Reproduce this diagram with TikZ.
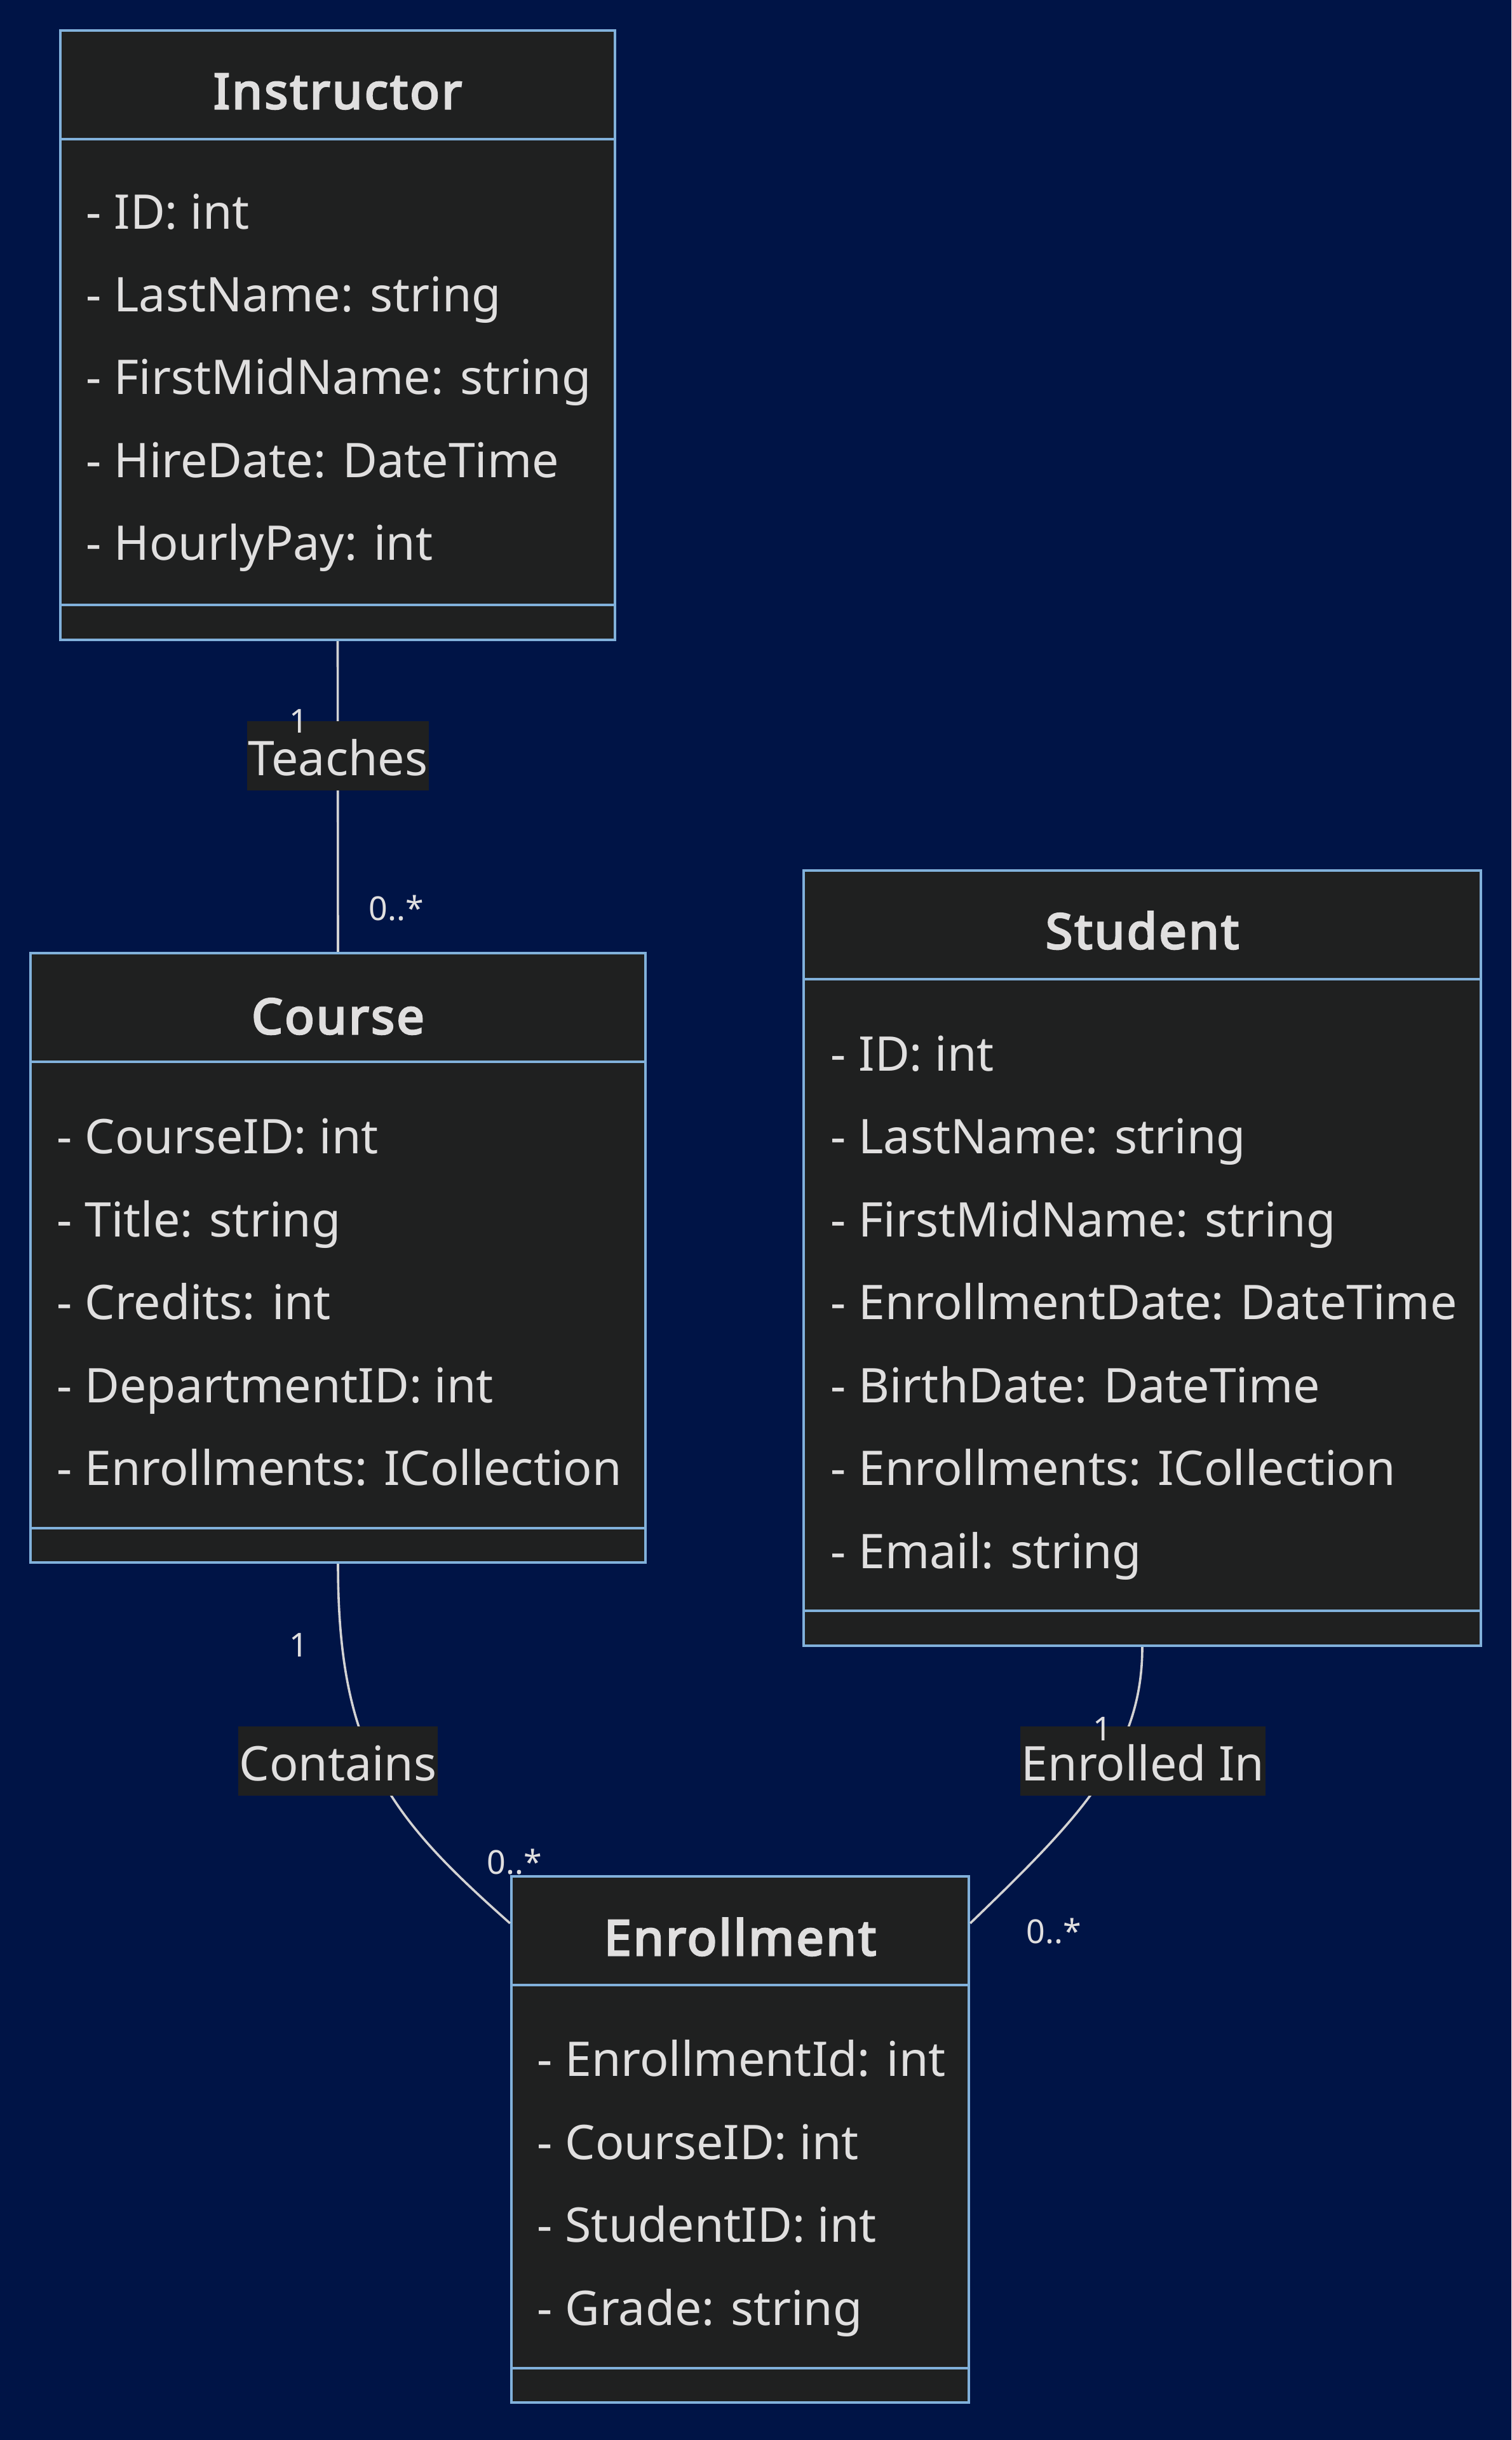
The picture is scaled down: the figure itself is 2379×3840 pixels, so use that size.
\documentclass[tikz,border=0pt]{standalone}
\usepackage{fontspec}
\setmainfont{Noto Sans}[BoldFont={Noto Sans},BoldFeatures={FakeBold=4,LetterSpace=4.5}]
\usetikzlibrary{fit}
\definecolor{bgnavy}{HTML}{001446}
\definecolor{boxfill}{HTML}{1F2020}
\definecolor{boxedge}{HTML}{81B1DB}
\definecolor{txt}{HTML}{E0DFDF}
\definecolor{edgeline}{HTML}{D3D3D3}

\begin{document}
\begin{tikzpicture}[x=0.25pt,y=-0.25pt,
  classbox/.style={draw=boxedge,fill=boxfill,line width=1.1pt,inner sep=0pt},
  divider/.style={draw=boxedge,line width=1.1pt},
  title/.style={anchor=base,text=txt,font=\fontsize{19.2}{22}\selectfont\bfseries,inner sep=0pt},
  attr/.style={anchor=base west,text=txt,font=\fontsize{18.8}{22}\selectfont,inner sep=0pt},
  assoc/.style={draw=edgeline,line width=0.9pt},
  rel/.style={anchor=base,fill=boxfill,text=txt,font=\fontsize{18.8}{22}\selectfont,inner xsep=0.5pt,inner ysep=0pt,text height=21.25pt,text depth=6pt},
  mult/.style={anchor=base,text=txt,font=\fontsize{13}{15}\selectfont,inner sep=0pt}]

        \fill[bgnavy] (0,0) rectangle (2379,3840);
        \useasboundingbox (0,0) rectangle (2379,3840);

        % Instructor
        \node[classbox,fit={(95,48) (968,1007)}] (Instructor) {};
        \draw[divider] (95,219) -- (968,219);
        \draw[divider] (95,952) -- (968,952);
        \node[title] (instructorTitle) at (531.5,171) {Instructor};
        \node[attr] (instructorA1) at (135,361) {- ID: int};
        \node[attr] (instructorA2) at (135,491) {- LastName: string};
        \node[attr] (instructorA3) at (135,621) {- FirstMidName: string};
        \node[attr] (instructorA4) at (135,751) {- HireDate: DateTime};
        \node[attr] (instructorA5) at (135,881) {- HourlyPay: int};

        % Course
        \node[classbox,fit={(48,1500) (1016,2459)}] (Course) {};
        \draw[divider] (48,1671) -- (1016,1671);
        \draw[divider] (48,2405) -- (1016,2405);
        \node[title] (courseTitle) at (532,1627) {Course};
        \node[attr] (courseA1) at (89,1815) {- CourseID: int};
        \node[attr] (courseA2) at (89,1946) {- Title: string};
        \node[attr] (courseA3) at (89,2076) {- Credits: int};
        \node[attr] (courseA4) at (89,2207) {- DepartmentID: int};
        \node[attr] (courseA5) at (89,2337) {- Enrollments: ICollection};

        % Student
        \node[classbox,fit={(1265,1370) (2331,2590)}] (Student) {};
        \draw[divider] (1265,1541) -- (2331,1541);
        \draw[divider] (1265,2535) -- (2331,2535);
        \node[title] (studentTitle) at (1798,1493) {Student};
        \node[attr] (studentA1) at (1307,1685) {- ID: int};
        \node[attr] (studentA2) at (1307,1815) {- LastName: string};
        \node[attr] (studentA3) at (1307,1946) {- FirstMidName: string};
        \node[attr] (studentA4) at (1307,2076) {- EnrollmentDate: DateTime};
        \node[attr] (studentA5) at (1307,2207) {- BirthDate: DateTime};
        \node[attr] (studentA6) at (1307,2337) {- Enrollments: ICollection};
        \node[attr] (studentA7) at (1307,2468) {- Email: string};

        % Enrollment
        \node[classbox,fit={(805,2953) (1525,3781)}] (Enrollment) {};
        \draw[divider] (805,3124) -- (1525,3124);
        \draw[divider] (805,3727) -- (1525,3727);
        \node[title] (enrollmentTitle) at (1165,3077) {Enrollment};
        \node[attr] (enrollmentA1) at (845,3267) {- EnrollmentId: int};
        \node[attr] (enrollmentA2) at (845,3398) {- CourseID: int};
        \node[attr] (enrollmentA3) at (845,3528) {- StudentID: int};
        \node[attr] (enrollmentA4) at (845,3659) {- Grade: string};

        \path[assoc] (Instructor.south) edge (Course.north);
        \draw[assoc] (Course.south) .. controls (532,2760) and (615,2860) .. ([yshift=-19pt]Enrollment.north west);
        \draw[assoc] (Student.south) .. controls (1798,2760) and (1700,2860) .. ([yshift=-19pt]Enrollment.north east);

        \node[rel] (teaches) at (532,1220) {Teaches};
        \node[rel] (contains) at (532,2802) {Contains};
        \node[rel] (enrolledIn) at (1799,2802) {Enrolled In};

        \node[mult] (teachesFrom) at (470,1153) {1};
        \node[mult] (teachesTo) at (624,1448) {0..*};
        \node[mult] (containsFrom) at (470,2607) {1};
        \node[mult] (containsTo) at (810,2949) {0..*};
        \node[mult] (enrolledFrom) at (1735,2739) {1};
        \node[mult] (enrolledTo) at (1659,3058) {0..*};
    \end{tikzpicture}
\end{document}
